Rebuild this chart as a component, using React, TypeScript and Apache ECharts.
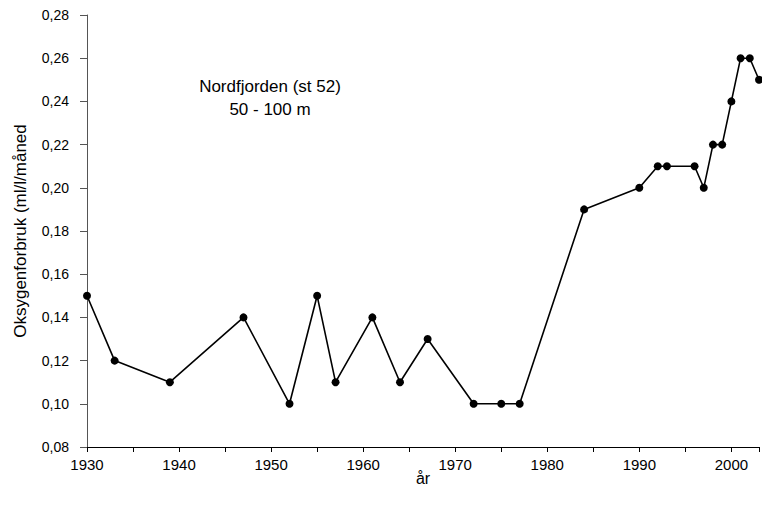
import React, { useEffect, useRef } from "react";
import * as echarts from "echarts";

const years = [1930, 1933, 1939, 1947, 1952, 1955, 1957, 1961, 1964, 1967, 1972, 1975, 1977, 1984, 1990, 1992, 1993, 1996, 1997, 1998, 1999, 2000, 2001, 2002, 2003];
const values = [0.15, 0.12, 0.11, 0.14, 0.10, 0.15, 0.11, 0.14, 0.11, 0.13, 0.10, 0.10, 0.10, 0.19, 0.20, 0.21, 0.21, 0.21, 0.20, 0.22, 0.22, 0.24, 0.26, 0.26, 0.25];
const annotationLines = ["Nordfjorden (st 52)", "50 - 100 m"];
const yTitle = "Oksygenforbruk (ml/l/måned";
const xTitle = "år";

export default function App() {
  const ref = useRef<HTMLDivElement>(null);
  useEffect(() => {
    if (!ref.current) return;
    const chart = echarts.init(ref.current, null, { renderer: "svg" });
    const font = "'Liberation Sans', Arial, sans-serif";
    chart.setOption({
      animation: false,
      backgroundColor: "#fff",
      textStyle: { fontFamily: font },
      grid: { left: 87, right: 0, top: 15, bottom: 68 },
      xAxis: {
        type: "value",
        min: 1930,
        max: 2003,
        interval: 5,
        axisLine: { lineStyle: { color: "#000", width: 1 } },
        axisTick: { show: true, length: 5, lineStyle: { color: "#000" } },
        splitLine: { show: false },
        axisLabel: {
          color: "#000",
          fontSize: 15,
          fontFamily: font,
          margin: 10,
          formatter: (v: number) => (v % 10 === 0 ? String(v) : ""),
        },
        name: xTitle,
        nameLocation: "middle",
        nameGap: 23,
        nameMoveOverlap: false,
        nameTextStyle: { color: "#000", fontSize: 16, fontFamily: font },
      },
      yAxis: {
        type: "value",
        min: 0.08,
        max: 0.28,
        interval: 0.02,
        axisLine: { show: true, lineStyle: { color: "#555", width: 1 } },
        axisTick: { show: true, length: 7, lineStyle: { color: "#555" } },
        splitLine: { show: false },
        axisLabel: {
          color: "#000",
          fontSize: 14,
          fontFamily: font,
          margin: 18,
          formatter: (v: number) => v.toFixed(2).replace(".", ","),
        },
        name: yTitle,
        nameLocation: "middle",
        nameGap: 58,
        nameMoveOverlap: false,
        nameTextStyle: { color: "#000", fontSize: 17, fontFamily: font },
      },
      graphic: annotationLines.map((t, i) => ({
        type: "text",
        x: 270,
        y: 86 + i * 23,
        style: {
          text: t,
          fill: "#000",
          font: `17px ${font}`,
          textAlign: "center",
          textVerticalAlign: "middle",
        },
      })),
      series: [
        {
          type: "line",
          data: years.map((y, i) => [y, values[i]]),
          symbol: "circle",
          symbolSize: 8,
          lineStyle: { color: "#000", width: 1.6 },
          itemStyle: { color: "#000" },
          clip: false,
        },
      ],
    });
    return () => chart.dispose();
  }, []);
  return (
    <div
      ref={ref}
      style={{ position: "absolute", left: 0, top: 0, width: 762, height: 515 }}
    />
  );
}
